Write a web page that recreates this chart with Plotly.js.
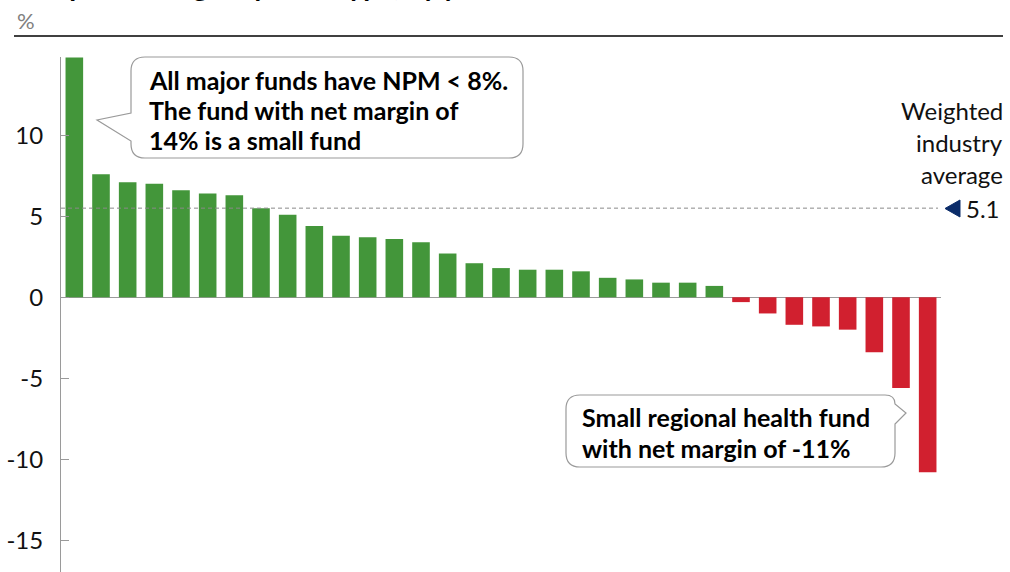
<!DOCTYPE html>
<html>
<head>
<meta charset="utf-8">
<script src="https://cdn.plot.ly/plotly-3.0.1.min.js"></script>
<style>html,body{margin:0;padding:0;background:#fff;}#chart{width:1010px;height:572px;}</style>
</head>
<body>
<div id="chart"></div>
<script>
// ---- data ----
const fundRank = [1,2,3,4,5,6,7,8,9,10,11,12,13,14,15,16,17,18,19,20,21,22,23,24,25,26,27,28,29,30,31,32,33];
const netMargin = [14.8, 7.6, 7.1, 7.0, 6.6, 6.4, 6.3, 5.5, 5.1, 4.4, 3.8, 3.7, 3.6, 3.4, 2.7, 2.1, 1.8, 1.7, 1.7, 1.6, 1.2, 1.1, 0.9, 0.9, 0.7, -0.3, -1.0, -1.7, -1.8, -2.0, -3.4, -5.6, -10.8];
const avgLineLevel = [5.5];
const avgLabel = "5.1";
const yTicks = [-15, -10, -5, 0, 5, 10];
const titleText = "Net profit margin by fund type, by year";
const unitLabel = "%";
const avgTitleLines = ["Weighted", "industry", "average"];
const note1Lines = ["All major funds have NPM < 8%.", "The fund with net margin of", "14% is a small fund"];
const note2Lines = ["Small regional health fund", "with net margin of -11%"];

// ---- geometry helpers (pixel -> paper) ----
const W = 1010, H = 572, ML = 61, MR = 69, MT = 57, MB = 0;
const PW = W - ML - MR, PH = H - MT - MB;
const px = x => (x - ML) / PW;
const py = y => (H - MB - y) / PH;
function pathFromPx(cmds) {
  return cmds.map(c => {
    const t = c[0], pts = c.slice(1);
    let s = t;
    for (let i = 0; i < pts.length; i += 2) s += (i ? ' ' : '') + px(pts[i]).toFixed(5) + ',' + py(pts[i+1]).toFixed(5);
    return s;
  }).join(' ') + ' Z';
}
const callout1 = pathFromPx([
  ['M',145,57],['L',509,57],['Q',523,57,523,71],['L',523,144],['Q',523,158,509,158],
  ['L',145,158],['Q',131,158,131,144],['L',131,141],['L',97,120],['L',131,113],['L',131,71],['Q',131,57,145,57]
]);
const callout2 = pathFromPx([
  ['M',580,395],['L',885,395],['Q',895,395,895,404],['L',906,413],['L',895,424],['L',895,453],
  ['Q',895,467,881,467],['L',580,467],['Q',566,467,566,453],['L',566,409],['Q',566,395,580,395]
]);
const avgPointer = pathFromPx([['M',945,208.5],['L',960,200],['L',960,217]]);

const GREEN = '#43963a', RED = '#d1202f';
const FONT = 'Lato, "Open Sans", sans-serif';

const bars = {
  type: 'bar', x: fundRank, y: netMargin,
  marker: {color: netMargin.map(v => v >= 0 ? GREEN : RED), line: {width: 0}},
  width: 0.66, hoverinfo: 'y', showlegend: false
};

const ann = [];
ann.push({xref:'paper', yref:'paper', x: px(14), y: py(-15), xanchor:'left', yanchor:'middle', showarrow:false,
  text:'<b>'+titleText+'</b>', font:{family:FONT, size:28, color:'#000'}});
ann.push({xref:'paper', yref:'paper', x: px(15), y: py(21), xanchor:'left', yanchor:'middle', showarrow:false,
  text: unitLabel, font:{family:FONT, size:22, color:'#808080'}});
note1Lines.forEach((t,i) => ann.push({xref:'paper', yref:'paper', x: px(147), y: py(80 + 30*i), xanchor:'left', yanchor:'middle',
  showarrow:false, text:'<b>'+t+'</b>', font:{family:FONT, size:25, color:'#000'}}));
note2Lines.forEach((t,i) => ann.push({xref:'paper', yref:'paper', x: px(580), y: py(417 + 31*i), xanchor:'left', yanchor:'middle',
  showarrow:false, text:'<b>'+t+'</b>', font:{family:FONT, size:25, color:'#000'}}));
avgTitleLines.forEach((t,i) => ann.push({xref:'paper', yref:'paper', x: px(1005), y: py(110 + 32*i), xanchor:'right', yanchor:'middle',
  showarrow:false, text:t, font:{family:FONT, size:24, color:'#111'}}));
ann.push({xref:'paper', yref:'y', x: px(964), y: avgLineLevel[0], xanchor:'left', yanchor:'middle', showarrow:false,
  text: avgLabel, font:{family:FONT, size:24, color:'#111'}});

const layout = {
  width: W, height: H,
  margin: {l: ML, r: MR, t: MT, b: MB, pad: 0},
  paper_bgcolor: '#fff', plot_bgcolor: '#fff',
  font: {family: FONT, size: 22, color: '#111'},
  showlegend: false,
  bargap: 0.34,
  xaxis: {range: [0.5, 33.5], showticklabels: false, ticks: '', showline: false, zeroline: false, showgrid: false, fixedrange: true},
  yaxis: {range: [-16.96, 14.83], tickvals: yTicks, ticktext: yTicks.map(String), ticks: 'inside', ticklen: 8, tickwidth: 1,
    tickcolor: '#9a9a9a', showline: true, linecolor: '#9a9a9a', linewidth: 1, showgrid: false,
    zeroline: true, zerolinecolor: '#9a9a9a', zerolinewidth: 1, ticklabelstandoff: 12,
    tickfont: {family: FONT, size: 24, color: '#111'}, fixedrange: true},
  shapes: [
    {type:'line', xref:'paper', yref:'paper', x0: px(14), x1: px(1003), y0: py(36), y1: py(36), line:{color:'#000', width:1.5}},
    {type:'line', xref:'paper', yref:'y', x0: 0, x1: px(938), y0: avgLineLevel[0], y1: avgLineLevel[0], line:{color:'#8a8a8a', width:1, dash:'4px,3px'}},
    {type:'path', xref:'paper', yref:'paper', path: avgPointer, fillcolor:'#0b2c69', line:{color:'#0b2c69', width:1}, layer:'above'},
    {type:'path', xref:'paper', yref:'paper', path: callout1, fillcolor:'#fff', line:{color:'#9a9a9a', width:1.2}, layer:'above'},
    {type:'path', xref:'paper', yref:'paper', path: callout2, fillcolor:'#fff', line:{color:'#9a9a9a', width:1.2}, layer:'above'}
  ],
  annotations: ann
};

Plotly.newPlot('chart', [bars], layout, {displayModeBar: false, staticPlot: true});
</script>
</body>
</html>
